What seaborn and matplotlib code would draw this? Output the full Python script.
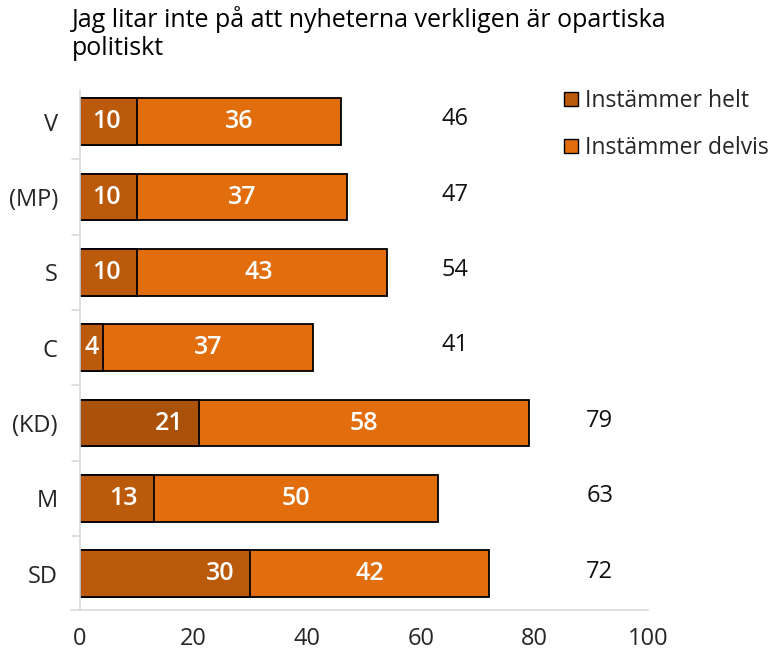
import matplotlib
matplotlib.use("Agg")
import matplotlib.pyplot as plt
from matplotlib.patches import Patch
import pandas as pd
import seaborn as sns

# Data
partier = ["V", "(MP)", "S", "C", "(KD)", "M", "SD"]
helt = [10, 10, 10, 4, 21, 13, 30]
delvis = [36, 37, 43, 37, 58, 50, 42]
totalt = [46, 47, 54, 41, 79, 63, 72]
x_ticks = [0, 20, 40, 60, 80, 100]

titel = "Jag litar inte på att nyheterna verkligen är opartiska\npolitiskt"
serier = ["Instämmer helt", "Instämmer delvis"]

c_helt = "#BA5A0A"
c_helt_kd = "#AA510A"
c_delvis = "#E26D0D"

df = pd.DataFrame({"parti": partier, "helt": helt, "delvis": delvis, "totalt": totalt})

sns.set_style("white")
plt.rcParams["font.family"] = ["Open Sans", "DejaVu Sans"]
fs = 17

fig = plt.figure(figsize=(7.84, 6.51), dpi=100)
ax = fig.add_axes([80 / 784, 41 / 651, 568 / 784, 520 / 651])

# full bar = helt + delvis, then helt drawn on top
sns.barplot(data=df, x="totalt", y="parti", color=c_delvis, width=0.62,
            edgecolor="black", linewidth=1.3, ax=ax, saturation=1)
helt_colors = [c_helt_kd if p == "(KD)" else c_helt for p in partier]
sns.barplot(data=df, x="helt", y="parti", hue="parti", palette=helt_colors, width=0.62,
            edgecolor="black", linewidth=1.3, ax=ax, saturation=1, legend=False)

for i, row in df.iterrows():
    pad = 2.8 if row["helt"] >= 10 else 0.7
    ax.text(row["helt"] - pad, i, str(row["helt"]), color="white", fontsize=18,
            fontweight="semibold", ha="right", va="center")
    ax.text(row["helt"] + row["delvis"] / 2, i, str(row["delvis"]), color="white",
            fontsize=18, fontweight="semibold", ha="center", va="center")
    tx = 66 if row["totalt"] < 60 else 91.5
    ax.text(tx, i - 0.03, str(row["totalt"]), color="#111111", fontsize=fs,
            ha="center", va="center")

ax.set_xlim(0, 100)
ax.set_ylim(6.48, -0.42)
ax.set_xticks(x_ticks)
ax.set_xticklabels([str(t) for t in x_ticks], fontsize=fs)
ax.tick_params(axis="x", length=0, pad=12)
ax.tick_params(axis="y", length=0, labelsize=fs, pad=16)
ax.set_xlabel("")
ax.set_ylabel("")

for side in ["top", "right"]:
    ax.spines[side].set_visible(False)
ax.spines["left"].set_color("#D9D9D9")
ax.spines["bottom"].set_color("#D9D9D9")
ax.spines["left"].set_linewidth(1.2)
ax.spines["bottom"].set_linewidth(1.2)
ax.spines["bottom"].set_bounds(-1.5, 100)
ax.set_xlim(0, 100)

# small category separator ticks on the left spine
for k in range(len(partier) - 1):
    ax.plot([-1.4, 0], [k + 0.5, k + 0.5], color="#D9D9D9", lw=1.2, clip_on=False)

fig.text(72 / 784, 1 - 6 / 651, titel, fontsize=18, ha="left", va="top",
         color="black", linespacing=1.15)

handles = [Patch(facecolor=c_helt, edgecolor="black", label=serier[0]),
           Patch(facecolor=c_delvis, edgecolor="black", label=serier[1])]
fig.legend(handles=handles, loc="upper left", bbox_to_anchor=(555 / 784, 1 - 80 / 651),
           frameon=False, fontsize=16.5, handlelength=0.6, handleheight=0.6,
           handletextpad=0.3, labelspacing=1.0, borderaxespad=0)

fig.savefig("out.png", dpi=100)
